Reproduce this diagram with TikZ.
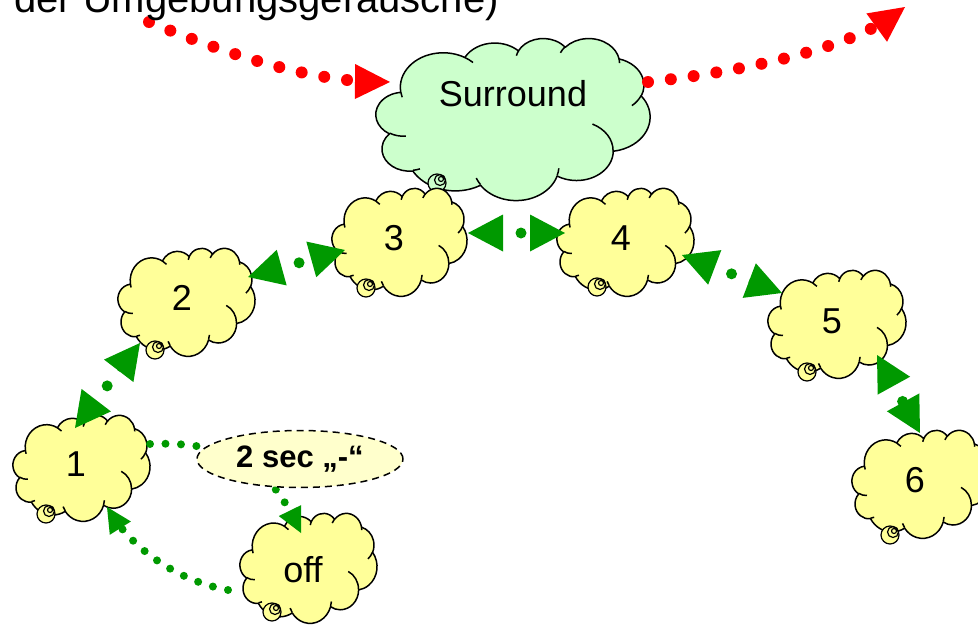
\documentclass[tikz,border=0pt]{standalone}
\usepackage{fontspec}
\setmainfont{Liberation Sans}
\usetikzlibrary{arrows.meta, calc, decorations.markings, shapes.geometric}
\definecolor{cyellow}{HTML}{FFFF99}
\definecolor{cgreen}{HTML}{CCFFCC}
\definecolor{ggreen}{HTML}{009900}
\definecolor{lyellow}{HTML}{FFFFCC}
\pgfdeclarelayer{bg}
\pgfsetlayers{bg,main}

\newcommand\oocompute[4]{%
  \pgfmathsetmacro\ootmpa{atan2((#1)*sin(#3),(#2)*cos(#3))}%
  \pgfmathsetmacro\ootmpb{atan2((#1)*sin((#3)+(#4)),(#2)*cos((#3)+(#4)))}%
  \pgfmathsetmacro\ootmpc{mod((\ootmpb)-(\ootmpa)+720,360)}%
  \global\let\oost\ootmpa
  \global\let\oodl\ootmpc}
\newcommand\ooarc[4]{\pgfextra{\oocompute{#1}{#2}{#3}{#4}} arc[x radius=#1, y radius=#2, start angle=\oost, delta angle=\oodl]}

\newcommand\ppcloud[5]{%
\begin{scope}[shift={(#1,#2)}, xscale=#3/43.2, yscale=#4/43.2]
\filldraw[cloudline, fill=#5] (3.9,14.37)
  \ooarc{6.753}{9.19}{-190.48748}{123.78053}
  \ooarc{5.333}{7.267}{-144.10238}{89.94523}
  \ooarc{4.365}{5.945}{-145.80792}{99.72302}
  \ooarc{4.857}{6.595}{-130.98607}{117.24173}
  \ooarc{5.333}{7.273}{-78.70888}{109.02692}
  \ooarc{6.775}{9.22}{-46.26725}{130.269}
  \ooarc{5.785}{7.867}{0.62502}{114.03333}
  \ooarc{6.752}{9.215}{22.4516}{115.17255}
  \ooarc{7.72}{10.543}{66.24263}{75.71102}
  \ooarc{4.36}{5.918}{-274.94208}{146.73557}
  \ooarc{4.345}{5.945}{-246.8285}{152.51885}
  -- cycle;
\draw[cloudline] (4.693,26.177) \ooarc{4.345}{5.945}{86.742}{26.4295}
  (6.928,34.899) \ooarc{4.36}{5.918}{73.61047}{11.44747}
  (16.478,39.09) \ooarc{6.752}{9.215}{137.62415}{14.0811}
  (28.827,34.751) \ooarc{6.752}{9.215}{6.45327}{15.99835}
  (34.129,22.954) \ooarc{5.785}{7.867}{-70.29235}{70.91737}
  (41.798,15.354) \ooarc{5.333}{7.273}{30.31803}{27.7515}
  (38.324,5.426) \ooarc{4.857}{6.595}{-13.74433}{14.8589}
  (29.078,3.952) \ooarc{4.857}{6.595}{-149.18145}{18.19537}
  (22.141,4.72) \ooarc{4.365}{5.945}{-163.49427}{17.68635}
  (14,5.192) \ooarc{6.753}{9.19}{-66.70695}{12.31935}
  (4.127,15.789) \ooarc{6.753}{9.19}{157.65435}{11.85817};
\end{scope}}

\newcommand\cloudtail[3]{%
  \filldraw[tailline, fill=#3] (#1,#2) circle[radius=9];
  \draw[tailline] ($(#1,#2)+(3,-3)$) circle[radius=5.5];
  \draw[tailline] ($(#1,#2)+(4,-4)$) circle[radius=2.5];}

\begin{document}
\begin{tikzpicture}[x=1pt, y=-1pt,
  cloudline/.style={draw=black, line width=1.5pt, line join=round},
  tailline/.style={draw=black, line width=1.2pt},
  lbl/.style={font=\fontsize{36}{36}\selectfont, inner sep=0pt},
  gline/.style={draw=ggreen, line width=11pt, line cap=round, dash pattern=on 0pt off 24pt, dash phase=6pt, shorten <=11pt, shorten >=11pt},
  sline/.style={draw=ggreen, line width=8pt, line cap=round, dash pattern=on 0pt off 15.5pt, shorten >=10pt},
  rline/.style={draw=red, line width=12pt, line cap=round, dash pattern=on 0pt off 23pt, shorten >=14pt},
  tipend/.style={postaction={decorate, decoration={markings, mark=at position 1 with {\arrow{#1}}}}},
  tipboth/.style={postaction={decorate, decoration={markings, mark=at position 0 with {\arrowreversed{#1}}, mark=at position 1 with {\arrow{#1}}}}},
  gtip/.tip={Triangle[length=35pt, width=37pt, line width=0pt]},
  stip/.tip={Triangle[length=25pt, width=25pt, line width=0pt]},
  rtip/.tip={Triangle[length=35pt, width=35pt, line width=0pt]},
]
\useasboundingbox (0,0) rectangle (978,627);

% labels of the clouds
\node[lbl] (sur) at (513,94) {Surround};
\node[lbl] (n1) at (76,464) {1};
\node[lbl] (n2) at (182,298) {2};
\node[lbl] (n3) at (394,238) {3};
\node[lbl] (n4) at (621,238) {4};
\node[lbl] (n5) at (832,321) {5};
\node[lbl] (n6) at (915,480) {6};
\node[lbl] (off) at (303,570) {off};

\begin{pgfonlayer}{bg}
\fill[white] (0,0) rectangle (978,627);
\ppcloud{376}{38}{274}{162}{cgreen}
\cloudtail{437}{183}{cgreen}
\ppcloud{332}{188}{135}{108}{cyellow}
\cloudtail{366}{288}{cyellow}
\ppcloud{557}{188}{137}{108}{cyellow}
\cloudtail{597}{287}{cyellow}
\ppcloud{118}{248}{137}{108}{cyellow}
\cloudtail{155}{350}{cyellow}
\ppcloud{768}{270}{138}{108}{cyellow}
\cloudtail{807}{372}{cyellow}
\ppcloud{852}{430}{138}{108}{cyellow}
\cloudtail{890}{535}{cyellow}
\ppcloud{13}{415}{137}{106}{cyellow}
\cloudtail{46}{514}{cyellow}
\ppcloud{240}{513}{137}{110}{cyellow}
\cloudtail{272}{612}{cyellow}
\end{pgfonlayer}

% green two-way connectors
\draw[gline, tipboth=gtip] ($(n1.center)+(-1,-36)$) -- ($(n2.center)+(-42,45)$);
\draw[gline, tipboth=gtip] ($(n2.center)+(66,-21)$) -- ($(n3.center)+(-49,12)$);
\draw[gline, tipboth=gtip] ($(n3.center)+(74,-5)$) -- ($(n4.center)+(-56,-5)$);
\draw[gline, tipboth=gtip] ($(n4.center)+(61,17)$) -- ($(n5.center)+(-50,-28)$);
\draw[gline, tipboth=gtip] ($(n5.center)+(45,34)$) -- ($(n6.center)+(5,-47)$);

% red connectors
\coordinate (r0) at (149,22);
\coordinate (r1) at (905,7);
\draw[rline, tipend=rtip] (r0) .. controls (229,55) and (310,81) .. ($(sur.center)+(-123,-12)$);
\draw[rline, tipend=rtip] ($(sur.center)+(135,-12)$) .. controls (738,72) and (846,50) .. (r1);

% small green connectors
\draw[sline, tipend=stip] ($(n1.center)+(74,-20)$) .. controls (245,440) and (275,480) .. ($(off.center)+(-2,-37)$);
\draw[sline, tipend=stip] ($(off.center)+(-75,20)$) .. controls (173,580) and (131,545) .. ($(n1.center)+(31,43)$);

\node[ellipse, draw=black, line width=1.5pt, dash pattern=on 7pt off 5pt, fill=lyellow,
  minimum width=206, minimum height=57, inner sep=0pt,
  font=\bfseries\fontsize{31}{31}\selectfont] (lab) at (300,459) {2 sec „-“};

\node[anchor=base west, inner sep=0pt, font=\fontsize{40}{40}\selectfont] (top) at (14,12) {der Umgebungsgeräusche)};
\end{tikzpicture}
\end{document}
